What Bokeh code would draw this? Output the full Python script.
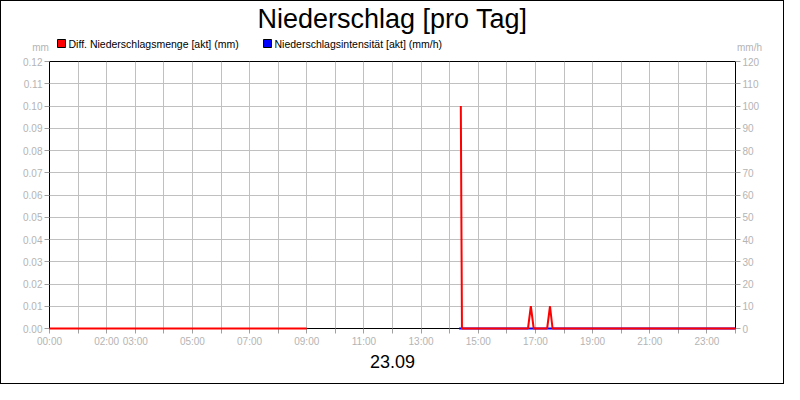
from bokeh.plotting import figure
from bokeh.layouts import column
from bokeh.models import (Range1d, LinearAxis, FixedTicker, PrintfTickFormatter)
from bokeh.core.properties import value
from bokeh.embed import file_html
from bokeh.resources import INLINE

nan = float("nan")

# data (time in hours of the day)
title_text = "Niederschlag [pro Tag]"
date_text = "23.09"
series_names = ["Diff. Niederschlagsmenge [akt] (mm)", "Niederschlagsintensität [akt] (mm/h)"]
series_colors = ["#ff0000", "#0000ff"]
unit_labels = ["mm", "mm/h"]
rain_time = [0.0, 9.0, nan, 14.39, 14.43, 16.74, 16.84, 16.94, 17.41, 17.51, 17.60, 24.0]
rain_mm = [0.0, 0.0, nan, 0.10, 0.0, 0.0, 0.01, 0.0, 0.0, 0.01, 0.0, 0.0]
intens_time = [14.33, 24.0]
intens_mmh = [0.0, 0.0]
hour_ticks = list(range(0, 25))
hour_labels = {0: "00:00", 2: "02:00", 3: "03:00", 5: "05:00", 7: "07:00", 9: "09:00",
               11: "11:00", 13: "13:00", 15: "15:00", 17: "17:00", 19: "19:00",
               21: "21:00", 23: "23:00"}
left_ticks = [i / 100 for i in range(0, 13)]
right_ticks = list(range(0, 121, 10))

W, H = 782, 382
HH = 52                      # header height
BL, BR, BT, BB = 48, 48, 8, 55
FONT = "Liberation Sans"
GREY = "#b4b4b4"

# ---------- header (title, legend, unit labels) ----------
h = figure(width=W, height=HH, output_backend="svg", toolbar_location=None,
           x_range=Range1d(0, W), y_range=Range1d(HH, 0),
           x_axis_type=None, y_axis_type=None,
           min_border_left=0, min_border_right=0, min_border_top=0, min_border_bottom=0)
h.outline_line_color = None
h.background_fill_color = "white"
h.border_fill_color = "white"

h.text(x=[W / 2], y=[17], text=[title_text], text_font=value(FONT),
       text_font_size=value("27px"), text_align="center", text_baseline="middle",
       text_color="black")
leg_x = [56, 262]
leg_y = 42
h.quad(left=leg_x, right=[x + 8 for x in leg_x], top=[leg_y - 4] * 2, bottom=[leg_y + 4] * 2,
       fill_color=series_colors, line_color="black", line_width=1)
h.text(x=[x + 11 for x in leg_x], y=[leg_y] * 2, text=series_names, text_font=value(FONT),
       text_font_size=value("10.5px"), text_align="left", text_baseline="middle",
       text_color="black")
h.text(x=[39, 748], y=[46, 46], text=unit_labels, text_font=value(FONT),
       text_font_size=value("10px"), text_align="center", text_baseline="middle",
       text_color=GREY)

# ---------- main chart ----------
p = figure(width=W, height=H - HH, output_backend="svg", toolbar_location=None,
           x_range=Range1d(0, 24), y_range=Range1d(0, 0.12),
           min_border_left=BL, min_border_right=BR, min_border_top=BT, min_border_bottom=BB)
p.extra_y_ranges = {"int": Range1d(0, 120)}
p.outline_line_color = "black"
p.outline_line_width = 1
p.background_fill_color = "white"
p.border_fill_color = "white"

try:
    h.frame_align = False
    p.frame_align = False
except AttributeError:
    pass

overrides = {t: hour_labels.get(t, "") for t in hour_ticks}

def style_axis(ax, standoff):
    ax.axis_line_color = "black"
    ax.major_tick_line_color = "#a0a0a0"
    ax.major_tick_out = 5
    ax.major_tick_in = 0
    ax.minor_tick_line_color = None
    ax.major_label_text_color = GREY
    ax.major_label_text_font = FONT
    ax.major_label_text_font_size = "10px"
    ax.major_label_standoff = standoff

style_axis(p.xaxis[0], 2)
style_axis(p.yaxis[0], 2)
p.xaxis[0].ticker = FixedTicker(ticks=hour_ticks)
p.xaxis[0].major_label_overrides = overrides
p.xaxis[0].axis_label = date_text
p.xaxis[0].axis_label_text_font = FONT
p.xaxis[0].axis_label_text_font_size = "18px"
p.xaxis[0].axis_label_text_font_style = "normal"
p.xaxis[0].axis_label_text_color = "black"
p.xaxis[0].axis_label_standoff = 5
p.yaxis[0].ticker = FixedTicker(ticks=left_ticks)
p.yaxis[0].formatter = PrintfTickFormatter(format="%.2f")

ra = LinearAxis(y_range_name="int", ticker=FixedTicker(ticks=right_ticks),
                formatter=PrintfTickFormatter(format="%d"))
style_axis(ra, 2)
p.add_layout(ra, "right")

p.xgrid.ticker = FixedTicker(ticks=hour_ticks)
p.ygrid.ticker = FixedTicker(ticks=left_ticks)
p.xgrid.grid_line_color = "#c0c0c0"
p.ygrid.grid_line_color = "#c0c0c0"

p.line(intens_time, intens_mmh, y_range_name="int", line_color=series_colors[1], line_width=2,
       level="overlay")
p.line(rain_time, rain_mm, line_color=series_colors[0], line_width=2, level="overlay")

layout = column(h, p, spacing=0)
layout.styles = {"border": "1px solid black"}

open("out.html", "w").write(file_html(layout, INLINE))
